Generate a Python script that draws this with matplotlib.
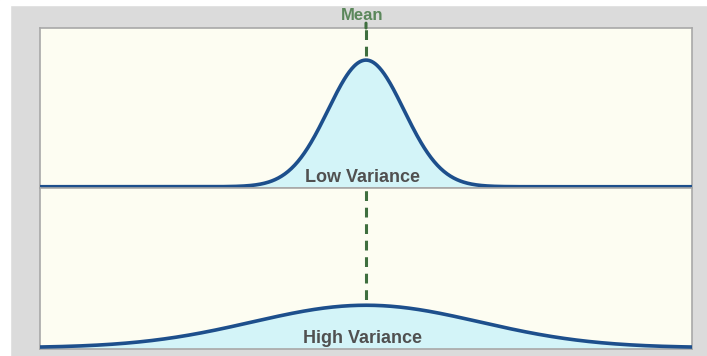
from matplotlib import pyplot as plt
import numpy as np

# Two normal curves sharing one mean, different spread
media = 0.0
desvios = [1.0, 3.0]
rotulos = ['Low Variance', 'High Variance']
rotulo_media = 'Mean'

cor_curva = '#1d4f8c'
cor_area = '#d3f4f8'
cor_media = '#3f6f3f'
cor_fundo = '#fdfdf2'

x = np.linspace(-8.6, 8.6, 800)

fig = plt.figure(figsize=(7.07, 3.56), dpi=100)
fig.patch.set_facecolor('#dbdbdb')
W, H = 707.0, 356.0

# faixa branca no topo e na esquerda
fig.patches.append(plt.Rectangle((0, 1 - 5 / H), 1, 5 / H, transform=fig.transFigure,
                                 color='white', zorder=0))
fig.patches.append(plt.Rectangle((0, 0), 10 / W, 1, transform=fig.transFigure,
                                 color='white', zorder=0))

paineis = [(28, 188), (188, 349)]
eixos = []
for (topo, base), sd, rot in zip(paineis, desvios, rotulos):
    ax = fig.add_axes([40 / W, 1 - base / H, 652 / W, (base - topo) / H])
    ax.set_facecolor(cor_fundo)
    y = np.exp(-0.5 * ((x - media) / sd) ** 2) / (sd * np.sqrt(2 * np.pi))
    ax.fill_between(x, 0, y, color=cor_area, zorder=1)
    ax.plot(x, y, color=cor_curva, lw=2.6, zorder=3, solid_capstyle='butt')
    ax.axvline(media, ymin=0, ymax=1, color=cor_media, lw=2.2, ls=(0, (3.2, 2.2)), zorder=0.5)
    ax.set_xlim(x[0], x[-1])
    ax.set_ylim(-0.004, 0.5)
    ax.text(media - 0.1, 0.016, rot, ha='center', va='baseline', fontsize=13,
            fontweight='bold', color='#505050', family='Liberation Sans', zorder=4)
    ax.set_xticks([])
    ax.set_yticks([])
    for s in ax.spines.values():
        s.set_color('#a8a8a8')
        s.set_linewidth(1.2)
    eixos.append(ax)

# linha da média acima do painel superior
ax0 = eixos[0]
ax0.annotate('', xy=(media, 0.5), xytext=(0, 3.5), textcoords='offset points',
             xycoords='data', annotation_clip=False,
             arrowprops=dict(arrowstyle='-', color=cor_media, lw=2.2, shrinkA=0, shrinkB=0))
ax0.annotate(rotulo_media, xy=(media - 0.1, 0.5), xytext=(0, 3.5), textcoords='offset points',
             ha='center', va='bottom', fontsize=12, fontweight='bold', color='#5b875b',
             family='Liberation Sans', annotation_clip=False)

fig.savefig('out.png', dpi=100, facecolor=fig.get_facecolor())
